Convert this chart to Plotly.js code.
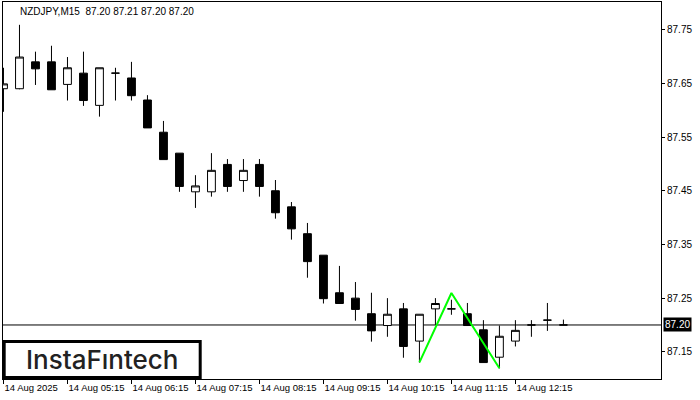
<!DOCTYPE html>
<html>
<head>
<meta charset="utf-8">
<script src="https://cdn.plot.ly/plotly-3.0.1.min.js"></script>
<style>html,body{margin:0;padding:0;background:#fff;}#chart{width:700px;height:400px;}</style>
</head>
<body>
<div id="chart"></div>
<script>
// 15-minute candles, 14 Aug 2025, 04:15 .. 13:00
const times = ["04:15","04:30","04:45","05:00","05:15","05:30","05:45","06:00","06:15","06:30","06:45","07:00",
  "07:15","07:30","07:45","08:00","08:15","08:30","08:45","09:00","09:15","09:30","09:45","10:00",
  "10:15","10:30","10:45","11:00","11:15","11:30","11:45","12:00","12:15","12:30","12:45","13:00"];
const open  = [87.640,87.640,87.690,87.690,87.648,87.669,87.609,87.669,87.660,87.619,87.559,87.520,
  87.448,87.448,87.499,87.469,87.499,87.450,87.420,87.370,87.330,87.260,87.250,87.221,
  87.199,87.230,87.170,87.230,87.230,87.221,87.191,87.140,87.170,87.200,87.209,87.200];
const high  = [87.679,87.759,87.709,87.720,87.699,87.709,87.679,87.679,87.690,87.628,87.580,87.520,
  87.479,87.520,87.509,87.509,87.509,87.470,87.429,87.390,87.330,87.310,87.280,87.260,
  87.250,87.241,87.220,87.250,87.247,87.241,87.209,87.199,87.209,87.209,87.241,87.210];
const low   = [87.597,87.639,87.647,87.638,87.618,87.608,87.588,87.618,87.618,87.567,87.508,87.448,
  87.418,87.439,87.448,87.448,87.439,87.398,87.359,87.288,87.240,87.240,87.208,87.169,
  87.178,87.139,87.130,87.200,87.219,87.199,87.130,87.119,87.160,87.178,87.189,87.200];
const close = [87.649,87.699,87.677,87.638,87.679,87.618,87.679,87.669,87.627,87.567,87.508,87.458,
  87.459,87.488,87.458,87.488,87.458,87.409,87.379,87.318,87.249,87.240,87.229,87.189,
  87.220,87.160,87.220,87.240,87.230,87.199,87.130,87.179,87.190,87.200,87.209,87.200];

// x-axis labels (one per hour)
const tickIdx  = [0,4,8,12,16,20,24,28,32];
const tickText = ["14 Aug 2025","14 Aug 05:15","14 Aug 06:15","14 Aug 07:15","14 Aug 08:15",
  "14 Aug 09:15","14 Aug 10:15","14 Aug 11:15","14 Aug 12:15"];

// pattern line (double bottom), candle index and price
const patternIdx   = [26, 28, 31];
const patternPrice = [87.1305, 87.2596, 87.1194];

const currentPrice = 87.20;
const titleText = "NZDJPY,M15  87.20 87.21 87.20 87.20";

const idx = times.map((t, i) => i);

const candles = {
  type: "candlestick",
  x: idx, open: open, high: high, low: low, close: close,
  text: times,
  increasing: {line: {color: "#000000", width: 1}, fillcolor: "#ffffff"},
  decreasing: {line: {color: "#000000", width: 1}, fillcolor: "#000000"},
  whiskerwidth: 0,
  hoverinfo: "skip",
  showlegend: false
};

const pattern = {
  type: "scatter", mode: "lines",
  x: patternIdx, y: patternPrice,
  line: {color: "#00ff00", width: 2},
  hoverinfo: "skip", showlegend: false
};

const font = "'Liberation Sans', Arial, sans-serif";

const layout = {
  width: 700, height: 400,
  margin: {l: 3, r: 39, t: 2, b: 21},
  paper_bgcolor: "#ffffff", plot_bgcolor: "#ffffff",
  showlegend: false,
  boxgap: 0.3,
  xaxis: {
    type: "linear",
    range: [-0.03, 41.1],
    rangeslider: {visible: false},
    showgrid: false, zeroline: false,
    showline: true, mirror: true, linecolor: "#000000", linewidth: 1,
    tickmode: "array", tickvals: tickIdx, ticktext: tickText,
    tickangle: 0, automargin: false,
    ticks: "outside", ticklen: 4, tickcolor: "#000000",
    ticklabelposition: "outside right",
    tickfont: {family: font, size: 9.5, color: "#000000"},
    fixedrange: true
  },
  yaxis: {
    side: "right",
    range: [87.0994, 87.8015],
    showgrid: false, zeroline: false,
    showline: true, mirror: true, linecolor: "#000000", linewidth: 1,
    tickmode: "linear", tick0: 87.15, dtick: 0.1,
    tickformat: ".2f", automargin: false,
    ticks: "outside", ticklen: 3, tickcolor: "#000000",
    tickfont: {family: font, size: 10, color: "#000000"},
    fixedrange: true
  },
  shapes: [
    {type: "line", xref: "paper", x0: 0, x1: 1, yref: "y", y0: currentPrice, y1: currentPrice,
     line: {color: "#000000", width: 1}, layer: "below"},
    {type: "rect", xref: "paper", yref: "paper", x0: 0.0018, x1: 0.2997, y0: 0.004, y1: 0.0995,
     fillcolor: "#ffffff", line: {color: "#000000", width: 3}, layer: "above"}
  ],
  annotations: [
    {xref: "paper", yref: "paper", x: 0.0228, y: 0.976, xanchor: "left", yanchor: "middle",
     text: titleText, showarrow: false,
     font: {family: font, size: 10, color: "#000000"}},
    {xref: "paper", yref: "paper", x: 0.151, y: 0.052, xanchor: "center", yanchor: "middle",
     text: "InstaFıntech", showarrow: false,
     font: {family: "Inter, 'Noto Sans', sans-serif", size: 26, color: "#222222", weight: 500}},
    {xref: "paper", yref: "y", x: 1, y: currentPrice, xanchor: "left", yanchor: "middle",
     xshift: 2, text: currentPrice.toFixed(2), showarrow: false, bgcolor: "#000000",
     borderpad: 1, font: {family: font, size: 10, color: "#ffffff"}}
  ]
};

Plotly.newPlot("chart", [candles, pattern], layout, {staticPlot: true, displayModeBar: false});
</script>
</body>
</html>
